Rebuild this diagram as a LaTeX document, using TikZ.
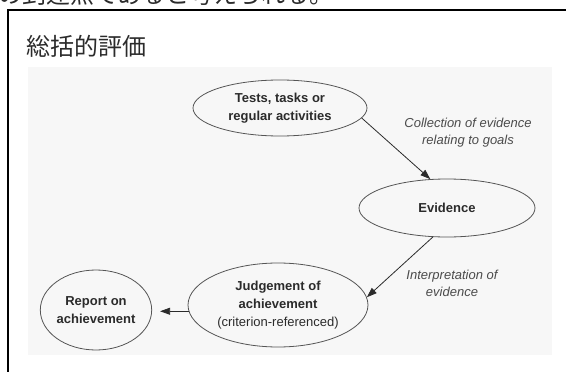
\documentclass[tikz,border=0pt]{standalone}
\usepackage{fontspec}
\setmainfont{Liberation Sans}
\newfontfamily\jp{Noto Sans CJK JP}
\usetikzlibrary{shapes.geometric,arrows.meta}
\definecolor{ink}{HTML}{2B2B2B}
\definecolor{edge}{HTML}{555555}
\definecolor{scan}{HTML}{F7F7F7}
\tikzset{
  oval/.style={ellipse, draw=edge, line width=0.8pt, inner sep=0pt, align=center,
    text=ink, font=\fontsize{13}{18}\selectfont\bfseries},
  flow/.style={draw=ink, line width=0.8pt, -{Triangle[length=10pt,width=7pt]}},
  lbl/.style={align=center, text=ink!85, font=\fontsize{13}{17}\selectfont\itshape},
  frame/.style={draw=black, line width=1.6pt}
}
\begin{document}
\begin{tikzpicture}[x=1pt,y=-1pt]
\useasboundingbox (0,0) rectangle (566,372);
\begin{scope}
\clip (0,0) rectangle (566,372);
% cropped line of text above the frame
\node[anchor=base west, inner sep=0pt, font=\jp\fontsize{24}{24}\selectfont, text=ink] (top) at (-2,3.5) {の到達点であると考えられる。};
% frame
\draw[frame] (8,380) -- (8,10) -- (580,10);
\end{scope}
% scanned figure background
\fill[scan] (28,67) rectangle (552,355);
% title
\node[anchor=base west, inner sep=0pt, font=\jp\fontsize{24}{24}\selectfont, text=ink] (title) at (26,55) {総括的評価};
% nodes
\node[oval, minimum width=174pt, minimum height=56pt] (t) at (280,108) {Tests, tasks or\\regular activities};
\node[oval, minimum width=176pt, minimum height=58pt] (e) at (447,208) {Evidence};
\node[oval, minimum width=180pt, minimum height=84pt] (j) at (278,305) {Judgement of\\achievement\\{\mdseries (criterion-referenced)}};
\node[oval, minimum width=106pt, minimum height=80pt] (r) at (96,310) {Report on\\achievement};
% connectors
\draw[flow] (t.-7) -- (e.120);
\draw[flow] (e.-116) -- (j.5);
\draw[flow, shorten >=8pt] (j.184) -- (r.east |- j.184);
% labels
\node[lbl] (l1) at (468,133) {Collection of evidence\\relating to goals};
\node[lbl] (l2) at (452,283) {Interpretation of\\evidence};
\end{tikzpicture}
\end{document}
